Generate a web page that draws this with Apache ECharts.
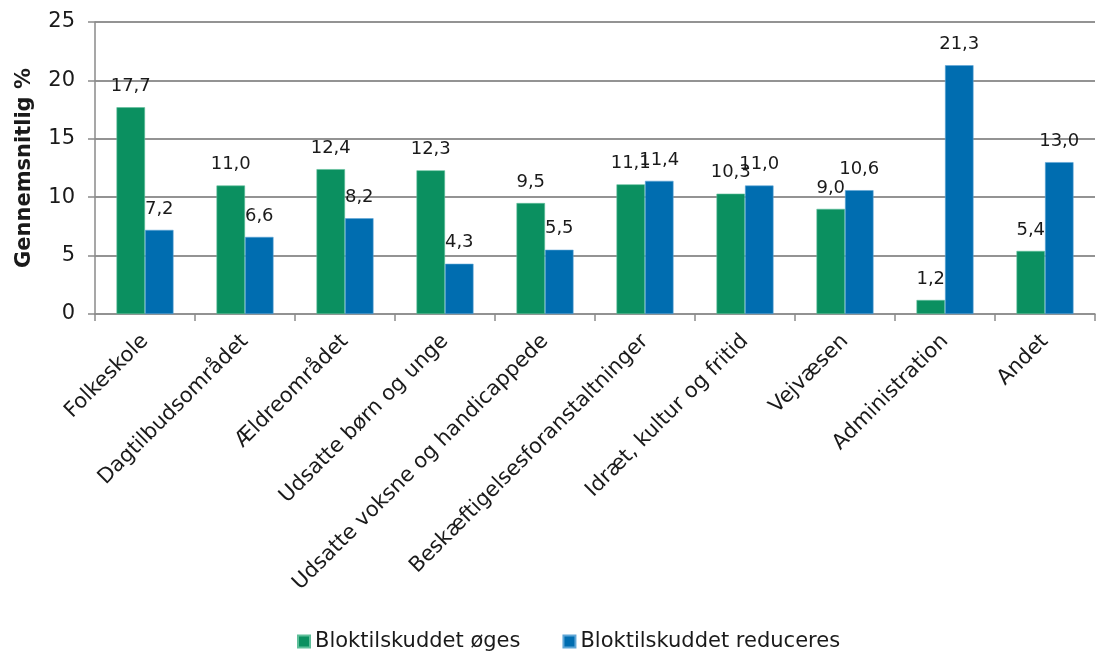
<!DOCTYPE html>
<html><head><meta charset="utf-8">
<script src="https://cdn.jsdelivr.net/npm/echarts@6/dist/echarts.min.js"></script>
<style>html,body{margin:0;padding:0;background:#fff}#c{width:1101px;height:651px}</style>
</head><body><div id="c"></div>
<script>
const categories = ["Folkeskole","Dagtilbudsområdet","Ældreområdet","Udsatte børn og unge","Udsatte voksne og handicappede","Beskæftigelsesforanstaltninger","Idræt, kultur og fritid","Vejvæsen","Administration","Andet"];
const seriesOges = [17.7,11.0,12.4,12.3,9.5,11.1,10.3,9.0,1.2,5.4];
const seriesReducers = [7.2,6.6,8.2,4.3,5.5,11.4,11.0,10.6,21.3,13.0];
const seriesNames = ["Bloktilskuddet øges","Bloktilskuddet reduceres"];
const yTicks = [0,5,10,15,20,25];

const font = "Verdana, 'DejaVu Sans', sans-serif";
const fmt = v => v.toFixed(1).replace('.', ',');
const chart = echarts.init(document.getElementById('c'));
const lbl = {show:true, position:'top', distance:12, color:'#1a1a1a', fontFamily:font, fontSize:18,
  formatter: p => fmt(p.value)};
chart.setOption({
  animation:false,
  grid:{left:95,right:6,top:22,bottom:337,containLabel:false},
  legend:{top:626,left:292,itemWidth:12,itemHeight:12,itemGap:42,icon:'rect',
    textStyle:{fontFamily:font,fontSize:21,color:'#1a1a1a'},data:seriesNames},
  xAxis:{type:'category',data:categories,
    axisLine:{lineStyle:{color:'#8a8a8a',width:1.5}},
    axisTick:{show:true,alignWithLabel:false,length:7,lineStyle:{color:'#8a8a8a',width:1.5}},
    axisLabel:{rotate:45,interval:0,fontFamily:font,fontSize:21,color:'#1a1a1a',margin:24}},
  yAxis:{type:'value',min:yTicks[0],max:yTicks[yTicks.length-1],interval:5,
    name:'Gennemsnitlig %',nameLocation:'middle',nameGap:60,nameRotate:90,
    nameTextStyle:{fontFamily:font,fontSize:21,fontWeight:'bold',color:'#1a1a1a'},
    axisLine:{show:true,lineStyle:{color:'#8a8a8a',width:1.5}},
    axisTick:{show:true,length:7,lineStyle:{color:'#8a8a8a',width:1.5}},
    axisLabel:{fontFamily:font,fontSize:21,color:'#1a1a1a',margin:20},
    splitLine:{show:true,lineStyle:{color:'#8c8c8c',width:1.5}}},
  series:[
    {name:seriesNames[0],type:'bar',data:seriesOges,barGap:'0%',barCategoryGap:'43%',z:2,
     itemStyle:{color:'#0b9060',borderColor:'#5fbf9a',borderWidth:0.6},label:lbl,
     markLine:{silent:true,symbol:'none',z:1,animation:false,
       label:{show:false},
       lineStyle:{color:'#8c8c8c',width:1.5,type:'solid'},
       emphasis:{disabled:true},
       data:yTicks.slice(1).map(v=>({yAxis:v}))}},
    {name:seriesNames[1],type:'bar',data:seriesReducers,z:2,
     itemStyle:{color:'#006db0',borderColor:'#5ea6d6',borderWidth:0.6},label:lbl}
  ]
});
</script></body></html>
